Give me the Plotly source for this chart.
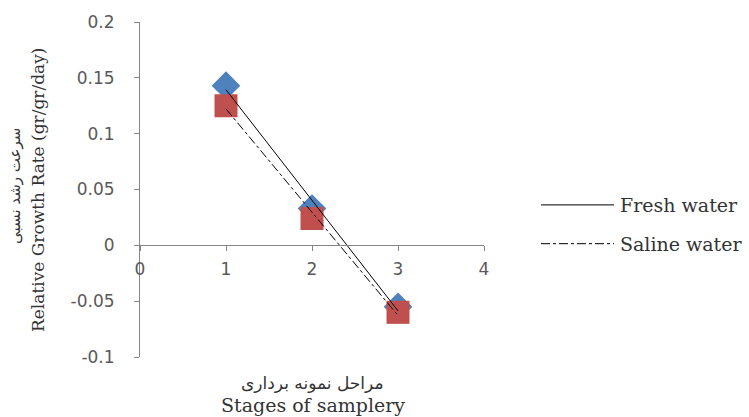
import numpy as np
import plotly.graph_objects as go

# ---- data ----
stages = [1, 2, 3]
fresh_water = [0.143, 0.033, -0.055]
saline_water = [0.125, 0.024, -0.060]
series_names = ["Fresh water", "Saline water"]
y_tick_vals = [-0.1, -0.05, 0, 0.05, 0.1, 0.15, 0.2]
y_tick_text = ["-0.1", "-0.05", "0", "0.05", "0.1", "0.15", "0.2"]
x_tick_vals = [0, 1, 2, 3, 4]
x_tick_text = ["0", "1", "2", "3", "4"]
y_title_fa = "سرعت رشد نسبی"
y_title_en = "Relative Growth Rate (gr/gr/day)"
x_title_fa = "مراحل نمونه برداری"
x_title_en = "Stages of samplery"

# plot geometry (pixels)
W, H = 749, 417
L, R, T, B = 140, 265, 20, 60
pw = W - L - R
ph = H - T - B

def px_x(p):
    return (p - L) / pw

def px_y(p):
    return (H - B - p) / ph

fig = go.Figure()

# markers
fig.add_trace(go.Scatter(x=stages, y=fresh_water, mode="markers",
                         marker=dict(symbol="diamond", size=22, color="#4F81BD"),
                         showlegend=False, hoverinfo="skip"))
fig.add_trace(go.Scatter(x=stages, y=saline_water, mode="markers",
                         marker=dict(symbol="square", size=23, color="#C0504D"),
                         showlegend=False, hoverinfo="skip"))

# linear trendlines
xs = np.array(stages, dtype=float)
for vals, dash in [(fresh_water, "solid"), (saline_water, "dashdot")]:
    k, b = np.polyfit(xs, np.array(vals), 1)
    fig.add_trace(go.Scatter(x=[xs.min(), xs.max()], y=[k * xs.min() + b, k * xs.max() + b],
                             mode="lines", line=dict(color="black", width=1, dash=dash),
                             showlegend=False, hoverinfo="skip"))

y_range = [-0.1, 0.2]
fig.update_layout(
    width=W, height=H,
    margin=dict(l=L, r=R, t=T, b=B),
    paper_bgcolor="white", plot_bgcolor="white",
    showlegend=False,
    xaxis=dict(range=[0, 4], tickvals=x_tick_vals, ticktext=x_tick_text,
               showgrid=False, zeroline=False, showline=True, linecolor="#868686", linewidth=1,
               ticks="outside", ticklen=5, tickcolor="#868686",
               tickfont=dict(family="DejaVu Sans", size=17, color="#595959"),
               ticklabelstandoff=3,
               anchor="free", position=(0 - y_range[0]) / (y_range[1] - y_range[0])),
    yaxis=dict(range=y_range, tickvals=y_tick_vals, ticktext=y_tick_text,
               showgrid=False, zeroline=False, showline=True, linecolor="#868686", linewidth=1,
               ticks="outside", ticklen=5, tickcolor="#868686",
               tickfont=dict(family="DejaVu Sans", size=17, color="#595959"),
               ticklabelstandoff=16),
)

ann = []
ann.append(dict(text=y_title_fa, x=px_x(15), y=px_y(185), xref="paper", yref="paper",
                textangle=-90, showarrow=False, xanchor="center", yanchor="middle",
                font=dict(family="DejaVu Sans", size=15, color="#333333")))
ann.append(dict(text=y_title_en, x=px_x(38), y=px_y(189), xref="paper", yref="paper",
                textangle=-90, showarrow=False, xanchor="center", yanchor="middle",
                font=dict(family="DejaVu Serif", size=17, color="#333333")))
ann.append(dict(text=x_title_fa, x=px_x(312), y=px_y(383), xref="paper", yref="paper",
                showarrow=False, xanchor="center", yanchor="middle",
                font=dict(family="DejaVu Sans", size=17, color="#333333")))
ann.append(dict(text=x_title_en, x=px_x(313), y=px_y(405), xref="paper", yref="paper",
                showarrow=False, xanchor="center", yanchor="middle",
                font=dict(family="DejaVu Serif", size=19, color="#333333")))

shapes = []
for i, (name, dash) in enumerate(zip(series_names, ["solid", "dashdot"])):
    yy = px_y(204 + 39 * i)
    shapes.append(dict(type="line", xref="paper", yref="paper", x0=px_x(541), x1=px_x(614),
                       y0=yy, y1=yy, line=dict(color="black", width=1, dash=dash)))
    ann.append(dict(text=name, x=px_x(618), y=yy, xref="paper", yref="paper",
                    showarrow=False, xanchor="left", yanchor="middle",
                    font=dict(family="DejaVu Serif", size=19, color="#333333")))

fig.update_layout(annotations=ann, shapes=shapes)
fig.write_html("out.html")
